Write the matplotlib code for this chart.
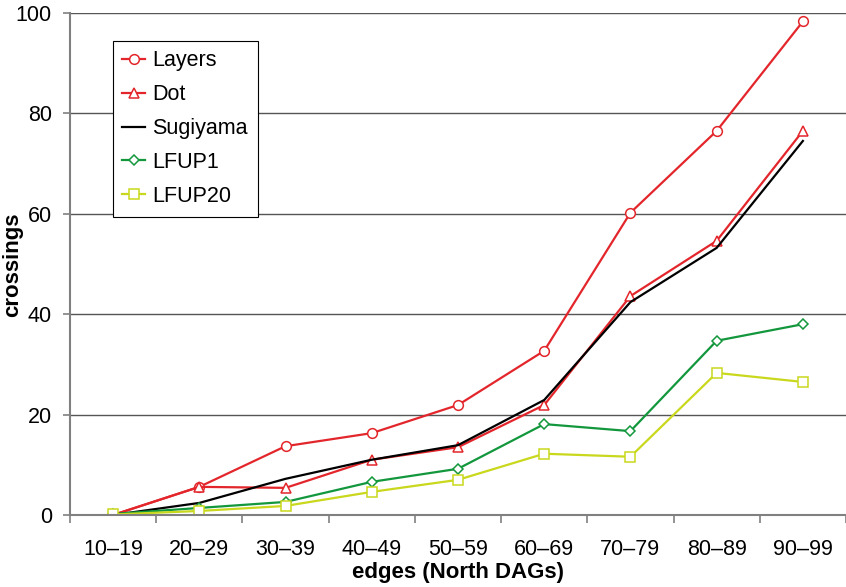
import numpy as np
import matplotlib.pyplot as plt

plt.rcParams['font.family'] = ['Liberation Sans', 'DejaVu Sans']

# --- data ---
categories = ['10–19', '20–29', '30–39', '40–49', '50–59', '60–69', '70–79', '80–89', '90–99']
layers = [0.0, 5.6, 13.7, 16.3, 21.9, 32.7, 60.2, 76.5, 98.3]
dot = [0.0, 5.6, 5.4, 11.0, 13.5, 21.9, 43.6, 54.6, 76.5]
sugiyama = [0.0, 2.4, 7.2, 11.0, 13.9, 22.9, 42.4, 53.2, 74.5]
lfup1 = [0.2, 1.4, 2.6, 6.6, 9.2, 18.1, 16.7, 34.7, 38.0]
lfup20 = [0.1, 0.8, 1.8, 4.6, 7.0, 12.2, 11.6, 28.3, 26.5]

red = '#e3262b'
green = '#13973d'
lime = '#c9d81c'
fs = 15.5

fig = plt.figure(figsize=(8.46, 5.87), dpi=100)
ax = fig.add_axes([0.0827, 0.1227, 0.9173, 0.8553])

x = np.arange(len(categories))
ax.plot(x, layers, color=red, lw=1.6, marker='o', ms=7, mfc='white', mec=red, mew=1.1, label='Layers')
ax.plot(x, dot, color=red, lw=1.6, marker='^', ms=7, mfc='white', mec=red, mew=1.1, label='Dot')
ax.plot(x, sugiyama, color='black', lw=1.6, label='Sugiyama')
ax.plot(x, lfup1, color=green, lw=1.6, marker='D', ms=5, mfc='white', mec=green, mew=1.1, label='LFUP1')
ax.plot(x, lfup20, color=lime, lw=1.6, marker='s', ms=7, mfc='white', mec=lime, mew=1.1, label='LFUP20')

# grid
for yv in [20, 40, 60, 80, 100]:
    ax.axhline(yv, color='#555555', lw=1.0, zorder=0)

ax.set_xlim(-0.5, 8.5)
ax.set_ylim(0, 100)
ax.set_yticks([0, 20, 40, 60, 80, 100])
ax.set_xticks(x)
ax.set_xticklabels(categories)
ax.set_xticks(np.arange(-0.5, 9, 1), minor=True)
ax.tick_params(axis='x', which='major', length=0, labelsize=fs, pad=17)
ax.tick_params(axis='x', which='minor', length=6, width=1.2, color='#808080', direction='out')
ax.tick_params(axis='y', length=5, width=1.2, color='#808080', labelsize=fs, pad=8)

for s in ['top', 'right']:
    ax.spines[s].set_visible(False)
for s in ['left', 'bottom']:
    ax.spines[s].set_color('#808080')
    ax.spines[s].set_linewidth(1.5)

ax.set_xlabel('edges (North DAGs)', fontsize=16, fontweight='bold', labelpad=2)
fig.text(13 / 846, 1 - 265 / 587, 'crossings', rotation=90, ha='center', va='center',
         fontsize=16, fontweight='bold')

leg = ax.legend(loc='upper left', bbox_to_anchor=(0.055, 0.945), fontsize=fs,
                frameon=True, fancybox=False, edgecolor='black', framealpha=1,
                handlelength=1.05, borderpad=0.45, labelspacing=0.6, handletextpad=0.35,
                borderaxespad=0)
leg.get_frame().set_linewidth(0.8)

fig.savefig('out.png', dpi=100)
